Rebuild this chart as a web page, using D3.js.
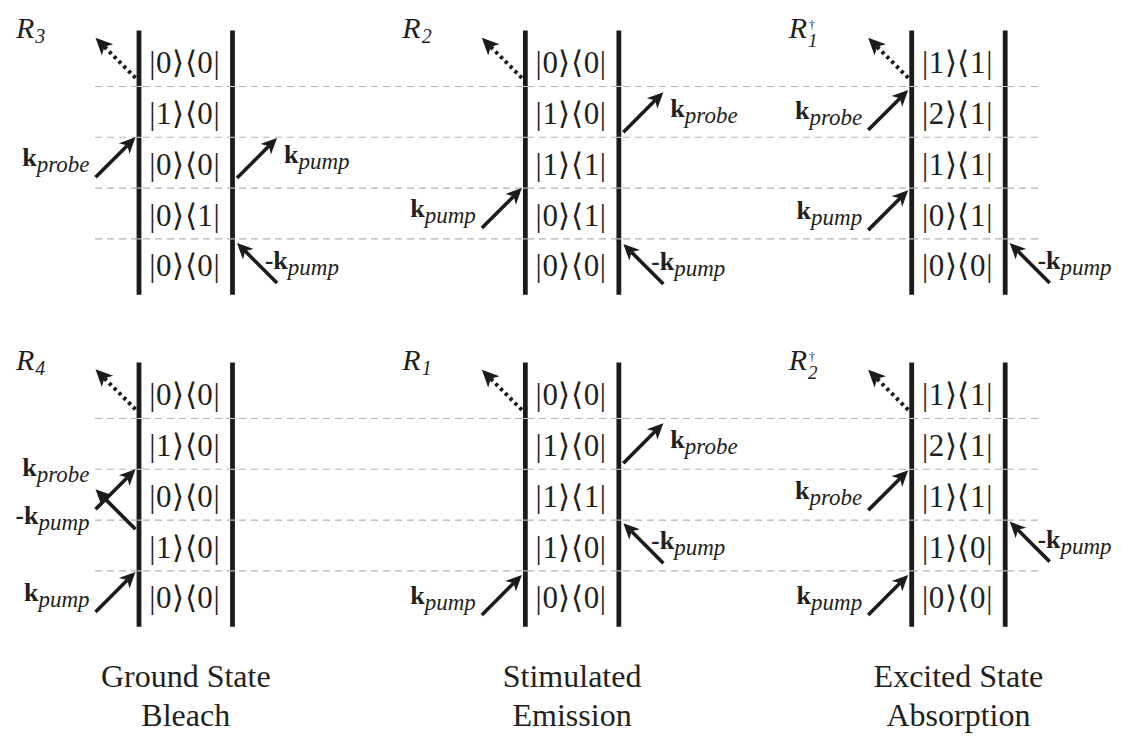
<!DOCTYPE html>
<html>
<head>
<meta charset="utf-8">
<script src="https://cdn.jsdelivr.net/npm/d3@7"></script>
<style>
  html, body { margin: 0; padding: 0; background: #fff; }
  svg { display: block; }
</style>
</head>
<body>
<svg id="chart" width="1130" height="738"></svg>
<script>
// ---- Double-sided Feynman diagrams for pump-probe response pathways ----

// Diagram identity: pathway name, subscript and whether it is the conjugate (†)
const pathwayNames = ["R3", "R2", "R1†", "R4", "R1", "R2†"];
const pathwaySubs = ["3", "2", "1", "4", "1", "2"];
const pathwayDagger = [false, false, true, false, false, true];
const pathwayCol = [0, 1, 2, 0, 1, 2];
const pathwayRow = [0, 0, 0, 1, 1, 1];

// Density-matrix element in each time slot, listed from the top (latest) down
const densityStates = [
  ["|0⟩⟨0|", "|1⟩⟨0|", "|0⟩⟨0|", "|0⟩⟨1|", "|0⟩⟨0|"],
  ["|0⟩⟨0|", "|1⟩⟨0|", "|1⟩⟨1|", "|0⟩⟨1|", "|0⟩⟨0|"],
  ["|1⟩⟨1|", "|2⟩⟨1|", "|1⟩⟨1|", "|0⟩⟨1|", "|0⟩⟨0|"],
  ["|0⟩⟨0|", "|1⟩⟨0|", "|0⟩⟨0|", "|1⟩⟨0|", "|0⟩⟨0|"],
  ["|0⟩⟨0|", "|1⟩⟨0|", "|1⟩⟨1|", "|1⟩⟨0|", "|0⟩⟨0|"],
  ["|1⟩⟨1|", "|2⟩⟨1|", "|1⟩⟨1|", "|1⟩⟨0|", "|0⟩⟨0|"]
];

// Field interactions: side of the diagram (ket L / bra R), time level where the
// arrow meets the vertical line, whether it points into or away from the line,
// which beam it is and the sign of the wavevector.
const interactions = [
  [ { side: "L", level: 0.83, dir: "out", beam: "signal", sign: "" },
    { side: "L", level: 2.00, dir: "in",  beam: "probe",  sign: "" },
    { side: "R", level: 2.80, dir: "out", beam: "pump",   sign: "" },
    { side: "R", level: 4.08, dir: "in",  beam: "pump",   sign: "-" } ],
  [ { side: "L", level: 0.83, dir: "out", beam: "signal", sign: "" },
    { side: "R", level: 1.90, dir: "out", beam: "probe",  sign: "" },
    { side: "L", level: 3.00, dir: "in",  beam: "pump",   sign: "" },
    { side: "R", level: 4.10, dir: "in",  beam: "pump",   sign: "-" } ],
  [ { side: "L", level: 0.83, dir: "out", beam: "signal", sign: "" },
    { side: "L", level: 1.07, dir: "in",  beam: "probe",  sign: "" },
    { side: "L", level: 3.04, dir: "in",  beam: "pump",   sign: "" },
    { side: "R", level: 4.08, dir: "in",  beam: "pump",   sign: "-" } ],
  [ { side: "L", level: 0.82, dir: "out", beam: "signal", sign: "" },
    { side: "L", level: 2.00, dir: "in",  beam: "probe",  sign: "" },
    { side: "L", level: 3.18, dir: "out", beam: "pump",   sign: "-" },
    { side: "L", level: 4.02, dir: "in",  beam: "pump",   sign: "" } ],
  [ { side: "L", level: 0.83, dir: "out", beam: "signal", sign: "" },
    { side: "R", level: 1.88, dir: "out", beam: "probe",  sign: "" },
    { side: "R", level: 3.06, dir: "in",  beam: "pump",   sign: "-" },
    { side: "L", level: 4.08, dir: "in",  beam: "pump",   sign: "" } ],
  [ { side: "L", level: 0.83, dir: "out", beam: "signal", sign: "" },
    { side: "L", level: 2.02, dir: "in",  beam: "probe",  sign: "" },
    { side: "R", level: 3.03, dir: "in",  beam: "pump",   sign: "-" },
    { side: "L", level: 4.08, dir: "in",  beam: "pump",   sign: "" } ]
];

// Column captions
const captionLines = [
  ["Ground State", "Bleach"],
  ["Stimulated", "Emission"],
  ["Excited State", "Absorption"]
];

// ---- layout ----
const serif = "'Liberation Serif', Tinos, 'Times New Roman', Times, serif";
const svg = d3.select("#chart").attr("font-family", serif);
const ink = "#1c1a1b";
const textInk = "#231f20";

const colX = d3.scaleLinear().domain([0, 2]).range([139, 911.7]);   // left line of each column
const lineGap = 93.5;                                               // distance between ket and bra lines
const rowTop = d3.scaleLinear().domain([0, 1]).range([35.7, 367.7]); // level-0 position per row
const levelStep = 50.8;
const levelY = (row, lv) => d3.scaleLinear().domain([0, 5]).range([rowTop(row), rowTop(row) + 5 * levelStep])(lv);

const dashX = [95, 1043];
const arrowSpan = 40;

// horizontal dashed time-slot separators spanning each row
[0, 1].forEach(row => {
  d3.range(1, 5).forEach(lv => {
    svg.append("line")
      .attr("x1", dashX[0]).attr("x2", dashX[1])
      .attr("y1", levelY(row, lv)).attr("y2", levelY(row, lv))
      .attr("stroke", "#b3b3b3").attr("stroke-width", 1.1)
      .attr("stroke-dasharray", "7,5");
  });
});

function headPath(x1, y1, x2, y2, L, W, notch) {
  const len = Math.hypot(x2 - x1, y2 - y1);
  const ux = (x2 - x1) / len, uy = (y2 - y1) / len;
  const px = -uy, py = ux;
  const bx = x2 - ux * L, by = y2 - uy * L;
  const nx = x2 - ux * (L - notch), ny = y2 - uy * (L - notch);
  return d3.line()([[x2, y2], [bx + px * W, by + py * W], [nx, ny], [bx - px * W, by - py * W]]) + "Z";
}

function drawArrow(g, x1, y1, x2, y2, dotted) {
  const L = dotted ? 17 : 16, W = dotted ? 8 : 7.5, notch = 4.5;
  const len = Math.hypot(x2 - x1, y2 - y1);
  const ux = (x2 - x1) / len, uy = (y2 - y1) / len;
  const ex = x2 - ux * (L - notch), ey = y2 - uy * (L - notch);
  g.append("line")
    .attr("x1", x1).attr("y1", y1).attr("x2", ex).attr("y2", ey)
    .attr("stroke", ink).attr("stroke-width", dotted ? 4 : 3.6)
    .attr("stroke-dasharray", dotted ? "3.2,3.6" : null);
  g.append("path").attr("d", headPath(x1, y1, x2, y2, L, W, notch)).attr("fill", ink);
}

function beamLabel(g, x, y, anchor, beam, sign) {
  const t = g.append("text").attr("x", x).attr("y", y).attr("text-anchor", anchor).attr("fill", textInk);
  if (sign) t.append("tspan").attr("font-weight", "bold").attr("font-size", 25).text(sign);
  t.append("tspan").attr("font-weight", "bold").attr("font-size", 26).text("k");
  t.append("tspan").attr("font-style", "italic").attr("font-size", 23).attr("dy", 6).text(beam);
}

pathwayNames.forEach((name, i) => {
  const col = pathwayCol[i], row = pathwayRow[i];
  const xL = colX(col), xR = xL + lineGap;
  const g = svg.append("g").attr("class", "pathway").attr("data-name", name);

  // vertical ket and bra lines
  [xL, xR].forEach(x => {
    g.append("line")
      .attr("x1", x).attr("x2", x)
      .attr("y1", levelY(row, -0.1)).attr("y2", levelY(row, 5.1))
      .attr("stroke", ink).attr("stroke-width", 4.8);
    d3.range(1, 5).forEach(lv => {
      g.append("line")
        .attr("x1", x - 2.5).attr("x2", x + 2.5)
        .attr("y1", levelY(row, lv)).attr("y2", levelY(row, lv))
        .attr("stroke", "#d8d8d8").attr("stroke-width", 1);
    });
  });

  // density matrix elements
  densityStates[i].forEach((s, k) => {
    g.append("text")
      .attr("x", (xL + xR) / 2 - 1)
      .attr("y", levelY(row, k + 0.5) + 12)
      .attr("text-anchor", "middle")
      .attr("font-size", 31)
      .attr("letter-spacing", 0.6)
      .attr("fill", textInk)
      .text(s);
  });

  // pathway label R_n or R_n^† (dagger stacked above the subscript)
  const lx = xL - 123, ly = levelY(row, 0) + 2;
  const lab = g.append("text").attr("x", lx).attr("y", ly).attr("fill", textInk);
  lab.append("tspan").attr("font-style", "italic").attr("font-size", 30).text("R");
  if (pathwayDagger[i]) {
    lab.append("tspan").attr("font-size", 12).attr("dx", 2).attr("dy", -9).text("†");
    lab.append("tspan").attr("font-style", "italic").attr("font-size", 19)
      .attr("dx", -7).attr("dy", 18).text(pathwaySubs[i]);
  } else {
    lab.append("tspan").attr("font-style", "italic").attr("font-size", 20)
      .attr("dx", 1).attr("dy", 5).text(pathwaySubs[i]);
  }

  // field interactions
  interactions[i].forEach(a => {
    const bx = a.side === "L" ? xL - 3.5 : xR + 4.5;
    const by = levelY(row, a.level);
    const ox = a.side === "L" ? bx - arrowSpan : bx + arrowSpan;
    const oy = a.dir === "in" ? by + arrowSpan : by - arrowSpan;
    if (a.dir === "in") drawArrow(g, ox, oy, bx, by, false);
    else drawArrow(g, bx, by, ox, oy, a.beam === "signal");

    if (a.beam === "signal") return;
    if (a.side === "L") {
      // crowded ket side of R4: probe label lifted above the crossing arrows
      let ly2 = a.dir === "in" ? oy - 11 : oy + 35;
      if (name === "R4" && a.beam === "probe") ly2 = oy - 33;
      beamLabel(g, ox - 6, ly2, "end", a.beam, a.sign);
    } else if (a.dir === "out") {
      beamLabel(g, ox + 7, oy + 25, "start", a.beam, a.sign);
    } else {
      beamLabel(g, ox - 12, oy - 14, "start", a.beam, a.sign);
    }
  });
});

// column captions
captionLines.forEach((lines, c) => {
  const cx = colX(c) + lineGap / 2;
  lines.forEach((s, k) => {
    svg.append("text")
      .attr("x", cx).attr("y", 687 + k * 39)
      .attr("text-anchor", "middle")
      .attr("font-size", 32)
      .attr("fill", textInk)
      .text(s);
  });
});
</script>
</body>
</html>
